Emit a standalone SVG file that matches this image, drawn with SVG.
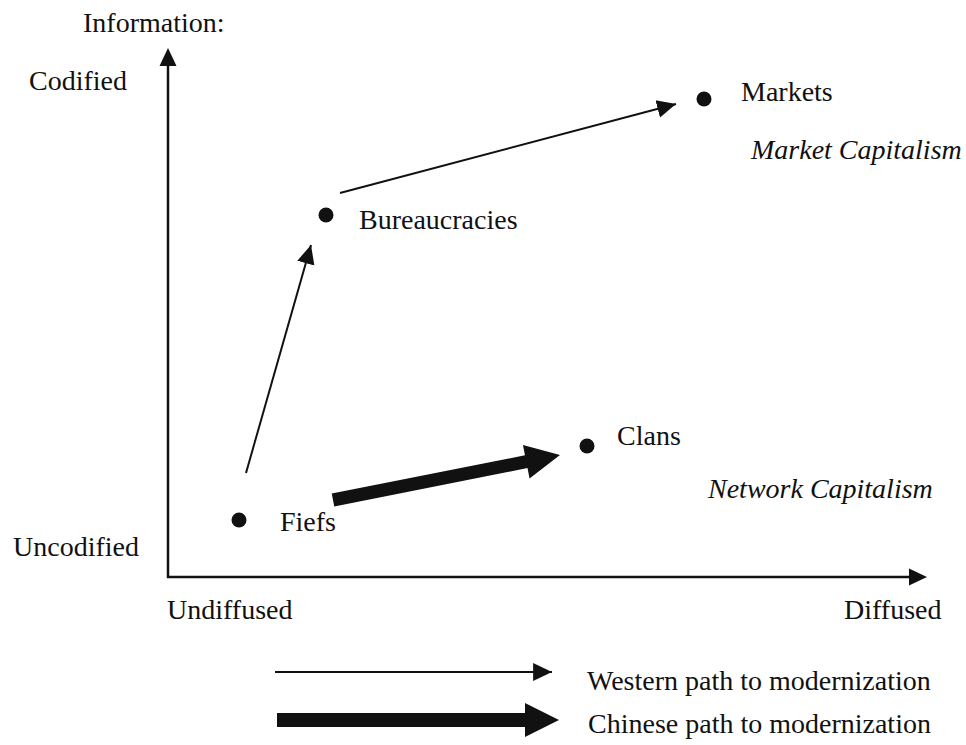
<svg xmlns="http://www.w3.org/2000/svg" width="966" height="745" viewBox="0 0 966 745">
  <style>
    text { font-family: "Liberation Serif", "Times New Roman", serif; font-size: 28px; fill: #111; }
    .it { font-style: italic; }
    .thin { stroke: #111; stroke-width: 2; fill: none; marker-end: url(#head); }
    .axis { stroke: #111; stroke-width: 2.5; fill: none; }
    .dot { fill: #111; }
    .solid { fill: #111; }
  </style>
  <defs>
    <marker id="head" markerUnits="userSpaceOnUse" markerWidth="20" markerHeight="20" viewBox="0 0 18 18" refX="17" refY="9" orient="auto">
      <path d="M0,1 L17,9 L0,17 Z" fill="#111"/>
    </marker>
  </defs>

  <!-- axes -->
  <g id="axes">
    <line class="axis" x1="168" y1="578" x2="168" y2="62"/>
    <path class="solid" d="M168,48 L176.5,66 L159.5,66 Z"/>
    <line class="axis" x1="167" y1="577" x2="912" y2="577"/>
    <path class="solid" d="M927,577 L909,568.5 L909,585.5 Z"/>
    <text x="83" y="32">Information:</text>
    <text x="29" y="90">Codified</text>
    <text x="13" y="556">Uncodified</text>
    <text x="167" y="619">Undiffused</text>
    <text x="844" y="619">Diffused</text>
  </g>

  <!-- nodes -->
  <g id="fiefs">
    <circle class="dot" cx="239" cy="520" r="7.5"/>
    <text x="280" y="531">Fiefs</text>
  </g>
  <g id="bureaucracies">
    <circle class="dot" cx="326" cy="215" r="7.5"/>
    <text x="359" y="229">Bureaucracies</text>
  </g>
  <g id="markets">
    <circle class="dot" cx="704" cy="99" r="7.5"/>
    <text x="741" y="101">Markets</text>
    <text class="it" x="751" y="159">Market Capitalism</text>
  </g>
  <g id="clans">
    <circle class="dot" cx="587" cy="446" r="7.5"/>
    <text x="617" y="445">Clans</text>
    <text class="it" x="708" y="498">Network Capitalism</text>
  </g>

  <!-- connectors -->
  <g id="connectors">
    <line class="thin" x1="246" y1="473" x2="311" y2="245"/>
    <line class="thin" x1="340" y1="193" x2="676" y2="104"/>
    <path class="solid" transform="translate(333,500) rotate(-11.21)" d="M0,-6.5 L197,-6.5 L197,-17 L231.4,0 L197,17 L197,6.5 L0,6.5 Z"/>
  </g>

  <!-- legend -->
  <g id="legend">
    <line class="thin" x1="275" y1="672" x2="552" y2="672"/>
    <text x="587" y="690">Western path to modernization</text>
    <path class="solid" d="M277,713 L525,713 L525,703 L559,720 L525,737 L525,727 L277,727 Z"/>
    <text x="588" y="733">Chinese path to modernization</text>
  </g>
</svg>
